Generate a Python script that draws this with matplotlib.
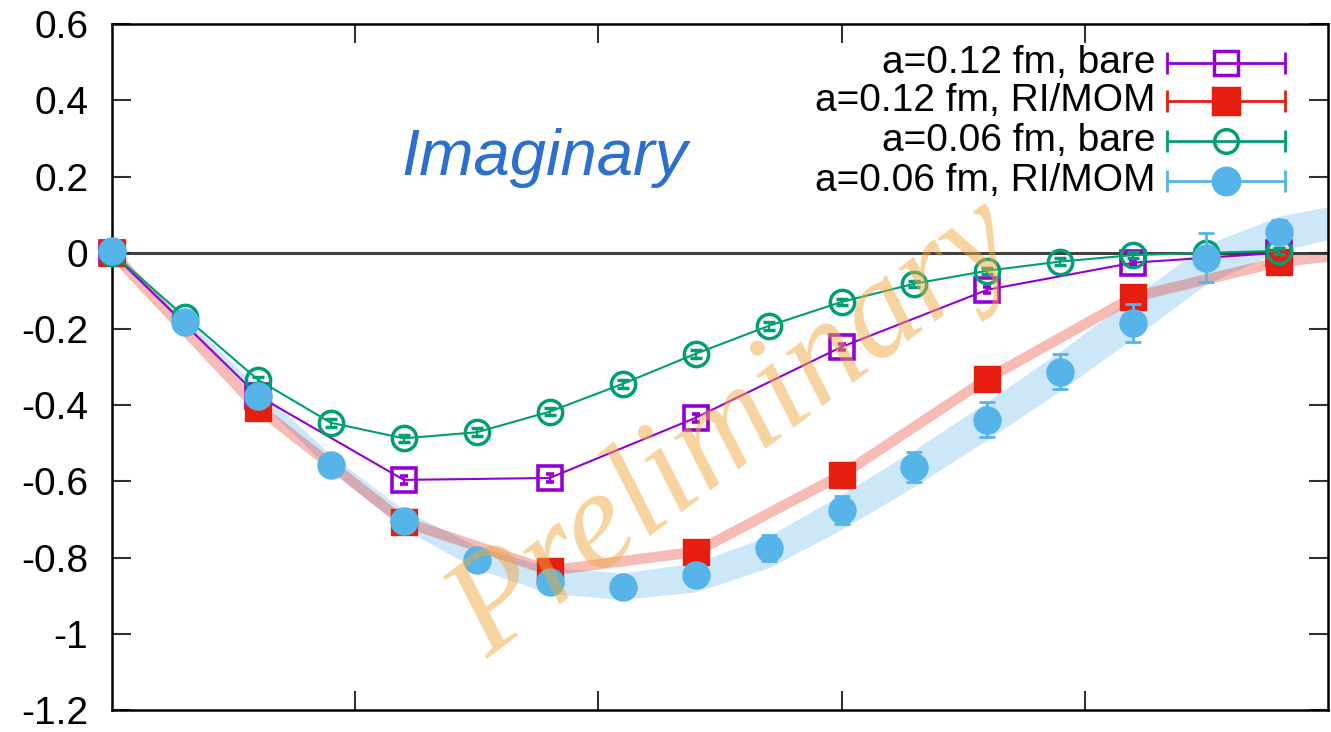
import matplotlib
matplotlib.use('Agg')
import matplotlib.pyplot as plt
import numpy as np

plt.rcParams['font.family'] = ['Liberation Sans', 'DejaVu Sans']

# fine lattice (a=0.06 fm) and coarse lattice (a=0.12 fm) positions
x_fine = [0.0, 0.3, 0.6, 0.9, 1.2, 1.5, 1.8, 2.1, 2.4, 2.7, 3.0, 3.3, 3.6, 3.9, 4.2, 4.5, 4.8]
x_coarse = [0.0, 0.6, 1.2, 1.8, 2.4, 3.0, 3.6, 4.2, 4.8]

bare12 = [0.0, -0.375, -0.596, -0.591, -0.433, -0.247, -0.097, -0.026, 0.0]
bare12_err = [0.004, 0.008, 0.010, 0.010, 0.010, 0.008, 0.008, 0.006, 0.006]
ri12 = [0.0, -0.407, -0.706, -0.834, -0.785, -0.583, -0.330, -0.116, -0.024]
ri12_err = [0.004, 0.008, 0.010, 0.012, 0.012, 0.012, 0.012, 0.012, 0.012]
bare06 = [0.0, -0.168, -0.333, -0.446, -0.487, -0.471, -0.417, -0.344, -0.265,
          -0.192, -0.129, -0.081, -0.047, -0.023, -0.006, 0.0, 0.005]
bare06_err = [0.004, 0.006, 0.008, 0.010, 0.010, 0.010, 0.010, 0.010, 0.010,
              0.010, 0.008, 0.008, 0.008, 0.008, 0.008, 0.008, 0.008]
ri06 = [0.005, -0.181, -0.375, -0.556, -0.703, -0.806, -0.863, -0.877, -0.845,
        -0.774, -0.675, -0.562, -0.438, -0.312, -0.184, -0.013, 0.055]
ri06_err = [0.005, 0.008, 0.010, 0.015, 0.020, 0.022, 0.025, 0.025, 0.028,
            0.034, 0.037, 0.039, 0.046, 0.046, 0.050, 0.064, 0.030]

# fit bands
band12_x = x_coarse + [5.0]
band12_y = ri12 + [-0.010]
band06_x = x_fine + [5.0]
band06_c = [0.0, -0.18, -0.37, -0.55, -0.70, -0.80, -0.86, -0.875, -0.852,
            -0.785, -0.68, -0.565, -0.44, -0.31, -0.17, -0.03, 0.05, 0.078]
band06_hw = [0.008, 0.012, 0.016, 0.020, 0.025, 0.030, 0.034, 0.035, 0.038,
             0.042, 0.046, 0.048, 0.050, 0.052, 0.054, 0.052, 0.046, 0.043]

labels = ['a=0.12 fm, bare', 'a=0.12 fm, RI/MOM', 'a=0.06 fm, bare', 'a=0.06 fm, RI/MOM']
c_purple = '#9400d3'
c_red = '#e51e10'
c_green = '#009e73'
c_blue = '#56b4e9'

fig = plt.figure(figsize=(13.31, 7.32), dpi=100)
ax = fig.add_axes([0.0841, 0.030, 0.9136, 0.937])

# bands
lo = np.array(band06_c) - np.array(band06_hw)
hi = np.array(band06_c) + np.array(band06_hw)
ax.fill_between(band06_x, lo, hi, color=c_blue, alpha=0.3, lw=0, zorder=1)
ax.plot(band12_x, band12_y, color=c_red, alpha=0.3, lw=7.5, solid_joinstyle='round', zorder=1.1)

ax.axhline(0, color='#404040', lw=2.2, zorder=1.5)

ax.errorbar(x_coarse, bare12, yerr=bare12_err, color=c_purple, lw=1.5, marker='s', ms=17,
            mfc='none', mec=c_purple, mew=2.6, capsize=3, elinewidth=1.5, zorder=3, clip_on=False)
ax.errorbar(x_coarse, ri12, yerr=ri12_err, color=c_red, lw=0, marker='s', ms=19,
            mec=c_red, capsize=5, elinewidth=1.5, zorder=4, clip_on=False)
ax.errorbar(x_fine, bare06, yerr=bare06_err, color=c_green, lw=1.5, marker='o', ms=17.5,
            mfc='none', mec=c_green, mew=2.5, capsize=4, elinewidth=1.5, zorder=5, clip_on=False)
ax.errorbar(x_fine, ri06, yerr=ri06_err, color=c_blue, lw=0, marker='o', ms=19.5,
            mec=c_blue, capsize=6, elinewidth=2, capthick=2, zorder=6, clip_on=False)

ax.set_xlim(0, 5)
ax.set_ylim(-1.2, 0.6)
ax.set_xticks([1, 2, 3, 4])
ax.set_xticklabels([])
yt = np.round(np.arange(-1.2, 0.61, 0.2), 1)
ax.set_yticks(yt)
ax.set_yticklabels(['%g' % v if v != 0 else '0' for v in yt], fontsize=28)
ax.tick_params(direction='in', length=14, width=1.5, top=True, right=True, pad=17, color='#303030')
for s in ax.spines.values():
    s.set_linewidth(1.8)

# legend drawn gnuplot style
cols = [(c_purple, 's', 'none'), (c_red, 's', c_red), (c_green, 'o', 'none'), (c_blue, 'o', c_blue)]
rows = [0.943, 0.888, 0.829, 0.771]
for (c, m, fc), lab, yy in zip(cols, labels, rows):
    ax.plot([0.868, 0.965], [yy, yy], color=c, lw=2, transform=ax.transAxes, zorder=8)
    ax.plot([0.868, 0.965], [yy, yy], ls='none', marker='|', ms=16, mew=2, color=c,
            transform=ax.transAxes, zorder=8)
    ms = 17 if fc == 'none' else 19
    ax.plot([0.916], [yy], ls='none', marker=m, ms=ms, mfc=fc, mec=c, mew=2.5,
            transform=ax.transAxes, zorder=9)
    ax.text(0.858, yy, lab, fontsize=28, ha='right', va='center', transform=ax.transAxes)

ax.text(0.356, 0.780, 'Imaginary', fontsize=47, style='italic', color='#2c6fcc',
        ha='center', va='baseline', transform=ax.transAxes)

ax.text(0.513, 0.408, 'Preliminary', fontsize=101, family='Liberation Serif', style='italic',
        color='#f0a840', alpha=0.5, rotation=37, rotation_mode='anchor',
        ha='center', va='center', transform=ax.transAxes, zorder=10)

fig.savefig('out.png', dpi=100)
